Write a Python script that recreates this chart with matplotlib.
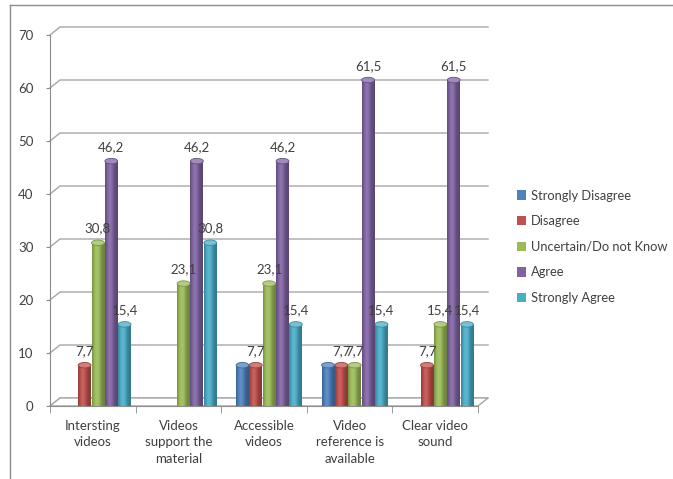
import numpy as np
import matplotlib.pyplot as plt
from matplotlib.patches import Patch, Ellipse, Rectangle, Polygon
from matplotlib.lines import Line2D
from matplotlib.colors import to_rgb

# ---------------------------------------------------------
# data
# ---------------------------------------------------------
categories = ["Intersting\nvideos", "Videos\nsupport the\nmaterial",
              "Accessible\nvideos", "Video\nreference is\navailable",
              "Clear video\nsound"]
series = ["Strongly Disagree", "Disagree", "Uncertain/Do not Know",
          "Agree", "Strongly Agree"]
strongly_disagree = [0, 0, 7.7, 7.7, 0]
disagree = [7.7, 0, 7.7, 7.7, 7.7]
uncertain = [30.8, 23.1, 23.1, 7.7, 15.4]
agree = [46.2, 46.2, 46.2, 61.5, 61.5]
strongly_agree = [15.4, 30.8, 15.4, 15.4, 15.4]
values = [strongly_disagree, disagree, uncertain, agree, strongly_agree]
show_labels = [False, True, True, True, True]   # first series has no data labels
y_ticks = [0, 10, 20, 30, 40, 50, 60, 70]

colors = ["#4F81BD", "#C0504D", "#9BBB59", "#8064A2", "#4BACC6"]
grid_c = "#A6A6A6"
axis_c = "#8C8C8C"
text_c = "#404040"

plt.rcParams["font.family"] = ["Lato", "DejaVu Sans"]
plt.rcParams["font.size"] = 9.5

fig = plt.figure(figsize=(6.73, 4.79), dpi=100)
W, H = 673, 479
ax = fig.add_axes([50 / W, (H - 406) / H, 428 / W, 371 / H])
ax.set_xlim(-0.5, len(categories) - 0.5)
ax.set_ylim(0, 70)

# pixel -> data conversions for the fake 3D depth
px_x = 428 / len(categories)
px_y = 371 / 70
dx = 10 / px_x
dy = 8 / px_y
x0, x1 = -0.5, len(categories) - 0.5

# back-wall gridlines
for yv in y_ticks:
    ax.plot([x0, x0 + dx, x1 + dx], [yv, yv + dy, yv + dy],
            color=grid_c, lw=1.0, clip_on=False, zorder=0)
# floor
ax.add_patch(Polygon([(x0, 0), (x0 + dx, dy), (x1 + dx, dy), (x1, 0)],
                     closed=True, facecolor="white", edgecolor=grid_c,
                     lw=1.0, clip_on=False, zorder=0.5))

# cylinder-like bars
bw = 0.15
step = 0.156
shift = 0.06
t = np.linspace(0, 1, 40)
shade = 0.70 + 0.42 * np.exp(-((t - 0.38) / 0.3) ** 2)

def shade_row(c):
    rgb = np.array(to_rgb(c))
    rows = []
    for f in shade:
        if f <= 1:
            rows.append(rgb * f)
        else:
            rows.append(rgb + (1 - rgb) * (f - 1) * 0.9)
    return np.clip(np.array(rows), 0, 1)[None, :, :]

cap_h = 5.5 / px_y
for j, (name, vals) in enumerate(zip(series, values)):
    grad = shade_row(colors[j])
    rgb = np.array(to_rgb(colors[j]))
    for i, v in enumerate(vals):
        if v <= 0:
            continue
        xc = i + (j - 2) * step + shift
        left = xc - bw / 2
        rect = Rectangle((left, 0), bw, v, facecolor="none", edgecolor="none")
        ax.add_patch(rect)
        im = ax.imshow(grad, extent=[left, left + bw, 0, v], aspect="auto",
                       zorder=2, interpolation="bilinear")
        im.set_clip_path(rect)
        ax.add_patch(Ellipse((xc, 0), bw, cap_h, facecolor=grad[0, 8],
                             edgecolor="none", zorder=1.9))
        ax.add_patch(Ellipse((xc, v), bw, cap_h,
                             facecolor=rgb + (1 - rgb) * 0.25,
                             edgecolor=rgb * 0.8, lw=0.6, zorder=3))
        if show_labels[j]:
            ax.annotate(f"{v:.1f}".replace(".", ","), (xc, v), xytext=(0, 6),
                        textcoords="offset points", ha="center", va="bottom",
                        color=text_c, fontsize=9.5, zorder=4)

# axes styling
for s in ["top", "right"]:
    ax.spines[s].set_visible(False)
for s in ["left", "bottom"]:
    ax.spines[s].set_color(axis_c)
ax.set_yticks(y_ticks)
ax.tick_params(axis="y", colors=axis_c, labelcolor=text_c, length=3,
               pad=9, labelsize=9.5)
ax.set_xticks(np.arange(len(categories)))
ax.set_xticklabels(categories, linespacing=1.45)
ax.tick_params(axis="x", length=0, pad=10, labelcolor=text_c, labelsize=9.5)
ax.set_xticks(np.arange(len(categories) + 1) - 0.5, minor=True)
ax.tick_params(axis="x", which="minor", length=5, color=axis_c)

# legend
handles = [Patch(facecolor=c, edgecolor="none") for c in colors]
fig.legend(handles, series, loc="upper left",
           bbox_to_anchor=(505 / W, 1 - 178 / H), frameon=False,
           handlelength=0.75, handleheight=0.75, handletextpad=0.35,
           labelspacing=1.05, fontsize=9.3, labelcolor=text_c)

# outer chart frame
fig.add_artist(Line2D([10 / W, 10 / W], [0, 1 - 5 / H], color=axis_c,
                      lw=1.0, transform=fig.transFigure))
fig.add_artist(Line2D([10 / W, 1], [1 - 5 / H, 1 - 5 / H], color=axis_c,
                      lw=1.0, transform=fig.transFigure))

fig.savefig("out.png", dpi=100)
